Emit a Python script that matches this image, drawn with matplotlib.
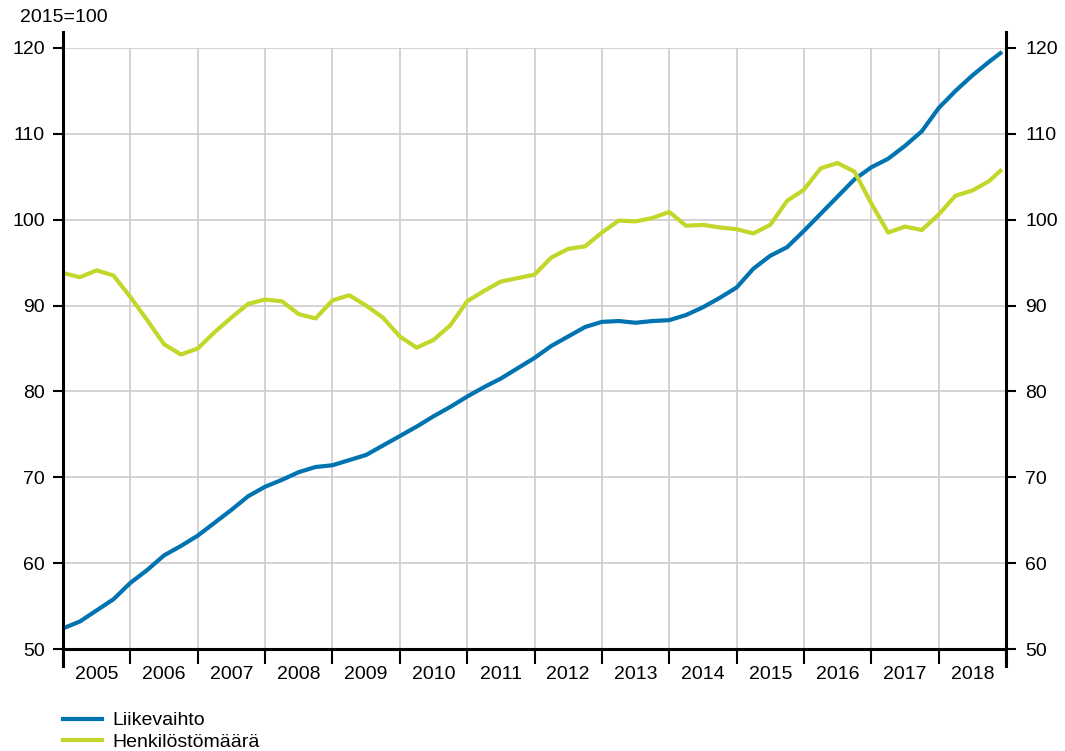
import numpy as np
import pandas as pd
import matplotlib.pyplot as plt

plt.rcParams['font.family'] = ['Liberation Sans', 'DejaVu Sans']

# quarterly readings (Jan, Apr, Jul, Oct) 2005-2018, plus Dec 2018
months = list(range(0, 168, 3)) + [167]

liikevaihto = [52.4, 53.2, 54.5, 55.8,
               57.7, 59.2, 60.9, 62.0,
               63.2, 64.7, 66.2, 67.8,
               68.9, 69.7, 70.6, 71.2,
               71.4, 72.0, 72.6, 73.7,
               74.8, 75.9, 77.1, 78.2,
               79.4, 80.5, 81.5, 82.7,
               83.9, 85.3, 86.4, 87.5,
               88.1, 88.2, 88.0, 88.2,
               88.3, 88.9, 89.8, 90.9,
               92.1, 94.3, 95.8, 96.8,
               98.7, 100.7, 102.7, 104.7,
               106.1, 107.1, 108.6, 110.3,
               113.0, 115.0, 116.8, 118.4, 119.4]

henkilosto = [93.8, 93.3, 94.1, 93.5,
              91.0, 88.3, 85.5, 84.3,
              85.0, 86.9, 88.6, 90.2,
              90.7, 90.5, 89.0, 88.5,
              90.6, 91.2, 90.0, 88.6,
              86.4, 85.1, 86.0, 87.7,
              90.5, 91.7, 92.8, 93.2,
              93.6, 95.6, 96.6, 96.9,
              98.5, 99.9, 99.8, 100.2,
              100.9, 99.3, 99.4, 99.1,
              98.9, 98.4, 99.4, 102.2,
              103.5, 106.0, 106.6, 105.6,
              101.9, 98.5, 99.2, 98.8,
              100.6, 102.8, 103.4, 104.5, 105.7]

years = list(range(2005, 2019))

blue = '#0073b0'
green = '#c3d72b'
fs = 14

fig = plt.figure(figsize=(10.65, 7.51), dpi=100)
ax = fig.add_axes([63/1065, 1 - 649/751, 943/1065, 601/751])

ax.plot(months, liikevaihto, color=blue, lw=3.0, label='Liikevaihto')
ax.plot(months, henkilosto, color=green, lw=3.0, label='Henkilöstömäärä')

ax.set_xlim(0, 168)
ax.set_ylim(50, 120)

yt = np.arange(50, 121, 10)
ax.set_yticks(yt)
ax.set_xticks([12*i + 6 for i in range(len(years))])
ax.set_xticklabels([str(y) for y in years])
ax.set_xticks(range(0, 169, 12), minor=True)

ax.grid(True, which='minor', axis='x', color='#cccccc', lw=1.2)
ax.grid(True, which='major', axis='y', color='#cccccc', lw=1.2)
ax.set_axisbelow(True)

ax.tick_params(axis='x', which='major', length=0, pad=12, labelsize=fs)
ax.tick_params(axis='x', which='minor', length=11, width=1.5, direction='out')
ax.tick_params(axis='y', length=7, width=1.5, pad=6, labelsize=fs)

ax.spines['top'].set_visible(False)
for s in ['left', 'right', 'bottom']:
    ax.spines[s].set_linewidth(2.2)
ax.spines['left'].set_bounds(48.0, 121.9)
ax.spines['right'].set_bounds(48.0, 121.9)

ax2 = ax.twinx()
ax2.set_ylim(ax.get_ylim())
ax2.set_yticks(yt)
ax2.tick_params(axis='y', length=7, width=1.5, pad=7, labelsize=fs)
for s in ['top', 'left', 'bottom', 'right']:
    ax2.spines[s].set_visible(False)

fig.text(20/1065, 1 - 17/751, '2015=100', fontsize=fs, va='center', ha='left')

fig.legend(loc='upper left', bbox_to_anchor=(55/1065, 1 - 704/751), frameon=False,
           fontsize=fs, handlelength=2.0, handletextpad=0.55, labelspacing=0.22,
           borderaxespad=0)

fig.savefig('out.png', dpi=100)
